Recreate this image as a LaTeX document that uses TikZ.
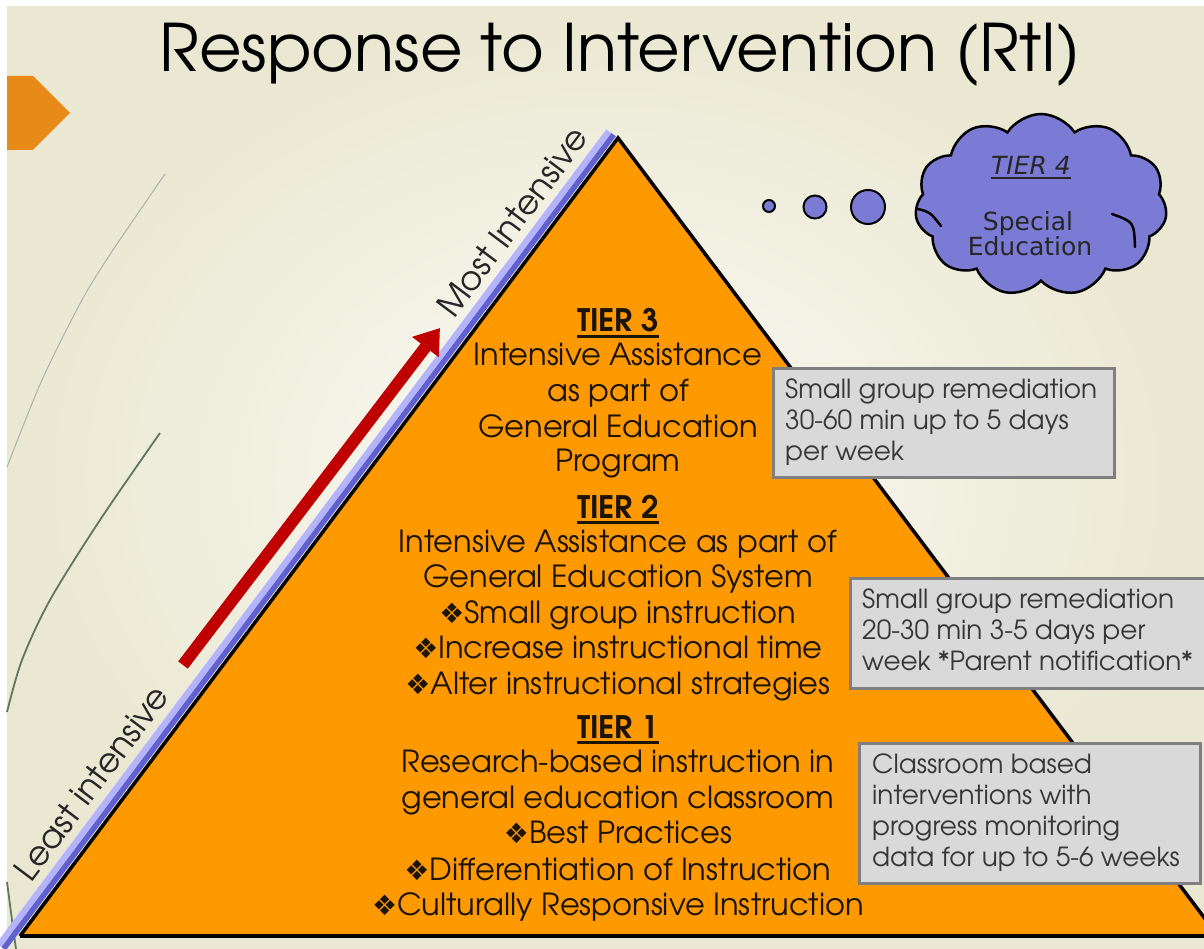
\documentclass[tikz,border=0pt]{standalone}
\usepackage{fontspec}
\usepackage{graphicx}
\usetikzlibrary{shapes.symbols,arrows.meta,calc}
\newfontfamily\cg{texgyreadventor}[Extension=.otf,UprightFont=*-regular,BoldFont=*-bold,ItalicFont=*-italic,BoldItalicFont=*-bolditalic]
\newfontfamily\dvs{DejaVu Sans}
\definecolor{bgin}{RGB}{251,251,246}
\definecolor{bgout}{RGB}{234,232,210}
\definecolor{tri}{RGB}{255,153,0}
\definecolor{tabc}{RGB}{232,138,23}
\definecolor{bandd}{RGB}{96,96,208}
\definecolor{bandl}{RGB}{180,180,255}
\definecolor{arrowred}{RGB}{192,0,0}
\definecolor{cloudc}{RGB}{123,123,214}
\definecolor{boxfill}{RGB}{217,217,217}
\definecolor{boxline}{RGB}{127,127,127}
\definecolor{boxtext}{RGB}{55,55,55}
\definecolor{arcc}{RGB}{95,118,95}
\definecolor{tcol}{RGB}{28,20,6}
\newcommand\ulbox[2][3pt]{\vtop{\hbox{#2}\kern2.5pt\hrule height #1}}
\newcommand\dm{{\dvs\fontsize{28}{28}\selectfont ❖}}
\begin{document}
\begin{tikzpicture}[x=1pt,y=-1pt,
  tt/.style={font=\cg\fontsize{30.5}{30.5}\selectfont, text=tcol, inner sep=0pt, anchor=base},
  tierhead/.style={font=\cg\bfseries\fontsize{31}{31}\selectfont, text=tcol, inner sep=0pt, anchor=base},
  btext/.style={font=\cg\fontsize{26.3}{26.3}\selectfont, text=boxtext, inner sep=0pt, anchor=base west},
  gbox/.style={draw=boxline, fill=boxfill, line width=3pt, rectangle, inner sep=0pt, anchor=north west},
  ctext/.style={font=\dvs\fontsize{25}{25}\selectfont, text=black!85, inner sep=0pt, anchor=base},
  bubble/.style={circle, draw=black, fill=cloudc, line width=2pt, inner sep=0pt},
  cloudline/.style={draw=black, line width=2.5pt, line cap=round},
  sidetext/.style={font=\cg\fontsize{33.5}{33.5}\selectfont, text=black!85, inner sep=0pt, anchor=base, rotate=53.13}
]
\useasboundingbox (0,0) rectangle (1204,949);
\clip (0,0) rectangle (1204,949);
\fill[white] (0,0) rectangle (1204,949);
\shade[inner color=bgin, outer color=bgout] (7,7) rectangle (1204,949);

% decorative arcs
\draw[arcc!55, line width=1pt] plot[smooth] coordinates {(165,174) (113,250) (82,300) (42,380) (7,467)};
\draw[arcc, line width=1.8pt] plot[smooth] coordinates {(160,433) (100,520) (50,600) (22,660) (7,712)};
\draw[arcc, line width=1.8pt] plot[smooth] coordinates {(7,882) (12,920) (16,949)};

% orange tab
\fill[tabc] (7,76) -- (33,76) -- (70,113) -- (33,150) -- (7,150) -- cycle;

% title
\node[font=\cg\fontsize{65.5}{65.5}\selectfont, text=black, inner sep=0pt, anchor=base] (title) at (620,72) {Response to Intervention (RtI)};

% pyramid
\coordinate (A) at (618,138);
\coordinate (BL) at (20,936);
\coordinate (BR) at (1218,936);
\fill[tri] (A) -- (BR) -- (BL) -- cycle;
\draw[bandl, line width=6pt] ($(A)+(-9.2,-6.9)$) -- ($(BL)+(-9.2,-6.9)+(-12,16)$);
\draw[bandd, line width=5.5pt] ($(A)+(-4.4,-3.3)$) -- ($(BL)+(-4.4,-3.3)+(-12,16)$);
\draw[black, line width=3.5pt, line join=miter] (BL) -- (A) -- (BR);
\draw[black, line width=4pt] (BL) -- (1210,936);

% red arrow
\coordinate (rt) at (183,665);
\coordinate (rh) at (440,328);
\draw[arrowred, line width=12pt, -{Triangle[length=24pt,width=32pt]}] (rt) -- (rh);

% side labels
\node[sidetext] (most) at (522,229) {Most Intensive};
\node[sidetext] (least) at (101,790) {Least intensive};

% tier texts
\node[tierhead] (t3h) at (618,332) {\ulbox{TIER 3}};
\node[tt] (t3a) at (618,365) {Intensive Assistance};
\node[tt] (t3b) at (618,401) {as part of};
\node[tt] (t3c) at (618,437) {General Education};
\node[tt] (t3d) at (618,471) {Program};
\node[tierhead] (t2h) at (618,518) {\ulbox{TIER 2}};
\node[tt] (t2a) at (618,552) {Intensive Assistance as part of};
\node[tt] (t2b) at (618,587) {General Education System};
\node[tt] (t2c) at (618,623) {\dm Small group instruction};
\node[tt] (t2d) at (618,658) {\dm Increase instructional time};
\node[tt] (t2e) at (618,694) {\dm Alter instructional strategies};
\node[tierhead] (t1h) at (618,738) {\ulbox{TIER 1}};
\node[tt] (t1a) at (618,772) {Research-based instruction in};
\node[tt] (t1b) at (618,808) {general education classroom};
\node[tt] (t1c) at (618,843) {\dm Best Practices};
\node[tt] (t1d) at (618,880) {\dm Differentiation of Instruction};
\node[tt] (t1e) at (618,915) {\dm Culturally Responsive Instruction};

% gray boxes
\node[gbox, minimum width=341pt, minimum height=109pt] (box1) at (772,367) {};
\node[btext] (b1a) at (785,398) {Small group remediation};
\node[btext] (b1b) at (785,429) {30-60 min up to 5 days};
\node[btext] (b1c) at (785,460) {per week};

\node[gbox, minimum width=365pt, minimum height=110pt] (box2) at (849,577) {};
\node[btext] (b2a) at (862,608) {Small group remediation};
\node[btext] (b2b) at (862,639) {20-30 min 3-5 days per};
\node[btext] (b2c) at (862,670) {week *Parent notification*};

\node[gbox, minimum width=341pt, minimum height=140pt] (box3) at (858,742) {};
\node[btext] (b3a) at (872,773) {Classroom based};
\node[btext] (b3b) at (872,804) {interventions with};
\node[btext] (b3c) at (872,835) {progress monitoring};
\node[btext] (b3d) at (872,866) {data for up to 5-6 weeks};

% thought cloud
\node[bubble, minimum size=12pt] (c1) at (769,206) {};
\node[bubble, minimum size=23pt] (c2) at (815,207) {};
\node[bubble, minimum size=34pt] (c3) at (868,207) {};
\node[cloud, cloud puffs=11, cloud puff arc=115, aspect=1.4, draw=black, fill=cloudc, line width=2.5pt, minimum width=252pt, minimum height=182pt, inner sep=0pt] (cloud) at (1041,205) {};
\draw[cloudline] (918,209) .. controls (930,212) .. (941,226);
\draw[cloudline] (1112,214) .. controls (1134,222) .. (1135,247);
\node[ctext] (c4h) at (1031,175) {\ulbox[1.5pt]{\itshape TIER 4}};
\node[ctext] (c4a) at (1028,231) {Special};
\node[ctext] (c4b) at (1030,256) {Education};
\end{tikzpicture}
\end{document}
